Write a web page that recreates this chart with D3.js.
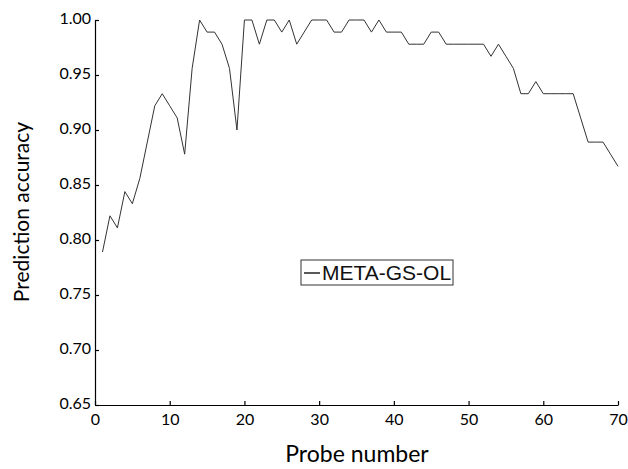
<!DOCTYPE html>
<html>
<head>
<meta charset="utf-8">
<script src="https://cdn.jsdelivr.net/npm/d3@7"></script>
<style>
  html, body { margin: 0; padding: 0; background: #fff; }
  svg { display: block; }
</style>
</head>
<body>
<div id="chart"></div>
<script>
// Probe number 1..70
const probes = d3.range(1, 71);

// Prediction accuracy per probe number
const accuracy = [
  0.789, 0.822, 0.811, 0.844, 0.833, 0.856, 0.889, 0.922, 0.933, 0.922,
  0.911, 0.878, 0.956, 1.000, 0.989, 0.989, 0.978, 0.956, 0.900, 1.000,
  1.000, 0.978, 1.000, 1.000, 0.989, 1.000, 0.978, 0.989, 1.000, 1.000,
  1.000, 0.989, 0.989, 1.000, 1.000, 1.000, 0.989, 1.000, 0.989, 0.989,
  0.989, 0.978, 0.978, 0.978, 0.989, 0.989, 0.978, 0.978, 0.978, 0.978,
  0.978, 0.978, 0.967, 0.978, 0.967, 0.956, 0.933, 0.933, 0.944, 0.933,
  0.933, 0.933, 0.933, 0.933, 0.911, 0.889, 0.889, 0.889, 0.878, 0.867
];

const xTicks = [0, 10, 20, 30, 40, 50, 60, 70];
const yTicks = [0.65, 0.70, 0.75, 0.80, 0.85, 0.90, 0.95, 1.00];
const seriesName = 'META-GS-OL';

const width = 628;
const height = 469;
const margin = { top: 20, right: 10, bottom: 64, left: 95 };
const chartWidth = width - margin.left - margin.right;
const chartHeight = height - margin.top - margin.bottom;

const svg = d3.select('#chart')
  .append('svg')
  .attr('width', width)
  .attr('height', height);

const g = svg.append('g')
  .attr('transform', `translate(${margin.left},${margin.top})`);

// Scales
const xScale = d3.scaleLinear().domain([0, 70]).range([0, chartWidth]);
const yScale = d3.scaleLinear().domain([0.65, 1.0]).range([chartHeight, 0]);

const font = 'Lato, "Open Sans", sans-serif';

// X axis (ticks point inward)
g.append('g')
  .attr('transform', `translate(0,${chartHeight})`)
  .call(d3.axisBottom(xScale).tickValues(xTicks).tickSizeInner(-4).tickSizeOuter(0).tickPadding(6))
  .call(a => a.select('.domain').attr('stroke', '#000').attr('stroke-width', 1.2))
  .call(a => a.selectAll('line').attr('stroke', '#000').attr('stroke-width', 1.2))
  .call(a => a.selectAll('text')
    .attr('fill', '#000')
    .attr('dy', '0.9em')
    .style('font-family', font)
    .style('font-size', '16px'));

// Y axis (ticks point inward)
g.append('g')
  .call(d3.axisLeft(yScale).tickValues(yTicks).tickFormat(d3.format('.2f')).tickSizeInner(-4).tickSizeOuter(0).tickPadding(4))
  .call(a => a.select('.domain').attr('stroke', '#000').attr('stroke-width', 1.2))
  .call(a => a.selectAll('line').attr('stroke', '#000').attr('stroke-width', 1.2))
  .call(a => a.selectAll('text')
    .attr('fill', '#000')
    .attr('dy', '0.2em')
    .style('font-family', font)
    .style('font-size', '16px'));

// Line
const line = d3.line()
  .x((d, i) => xScale(probes[i]))
  .y(d => yScale(d));

g.append('path')
  .datum(accuracy)
  .attr('fill', 'none')
  .attr('stroke', '#333')
  .attr('stroke-width', 1)
  .attr('d', line);

// Legend
const legend = svg.append('g').attr('transform', 'translate(301,260)');
legend.append('rect')
  .attr('width', 152)
  .attr('height', 25)
  .attr('fill', '#fff')
  .attr('stroke', '#333')
  .attr('stroke-width', 1);
legend.append('line')
  .attr('x1', 3).attr('x2', 19)
  .attr('y1', 13).attr('y2', 13)
  .attr('stroke', '#222')
  .attr('stroke-width', 1.5);
legend.append('text')
  .attr('x', 21)
  .attr('y', 20)
  .attr('fill', '#111')
  .style('font-family', '"Liberation Sans", Arial, sans-serif')
  .style('font-size', '21px')
  .text(seriesName);

// Axis titles
svg.append('text')
  .attr('x', 357)
  .attr('y', 462)
  .attr('text-anchor', 'middle')
  .attr('fill', '#000')
  .style('font-family', font)
  .style('font-size', '23px')
  .text('Probe number');

svg.append('text')
  .attr('transform', 'translate(29,212) rotate(-90)')
  .attr('text-anchor', 'middle')
  .attr('fill', '#000')
  .style('font-family', font)
  .style('font-size', '21px')
  .text('Prediction accuracy');
</script>
</body>
</html>
